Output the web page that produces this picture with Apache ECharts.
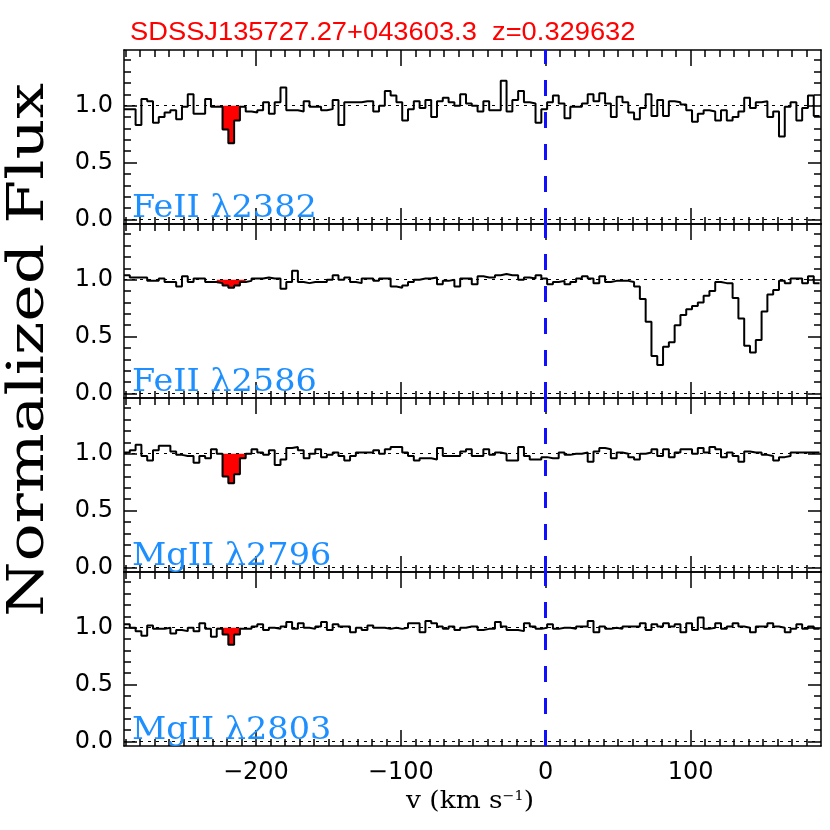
<!DOCTYPE html>
<html><head><meta charset="utf-8">
<script src="https://cdn.jsdelivr.net/npm/echarts@6/dist/echarts.min.js"></script>
<style>html,body{margin:0;padding:0;background:#fff}#c{width:830px;height:830px}</style>
</head><body><div id="c"></div>
<script>
// ---------------- data ----------------
const titleText = 'SDSSJ135727.27+043603.3  z=0.329632';
const panelLabels = ['FeII \u03bb2382', 'FeII \u03bb2586', 'MgII \u03bb2796', 'MgII \u03bb2803'];
const xTickValues = [-200, -100, 0, 100];
const xMinorValues = [-290,-280,-270,-260,-250,-240,-230,-220,-210,-200,-190,-180,-170,-160,-150,-140,-130,-120,-110,-100,-90,-80,-70,-60,-50,-40,-30,-20,-10,0,10,20,30,40,50,60,70,80,90,100,110,120,130,140,150,160,170,180];
const yTickValues = [0, 0.5, 1.0];
const yMinorValues = [0.1,0.2,0.3,0.4,0.6,0.7,0.8,0.9,1.1,1.2,1.3,1.4];
const velStart = -291;   // left edge of first pixel (km/s)
const velStep = 4;       // pixel width (km/s)
const absorber = [-227, -207]; // velocity window shaded red

const fe2382 = [0.97,0.97,0.83,1.06,1.04,0.85,0.90,0.94,0.96,0.88,
 0.99,1.10,0.93,0.93,1.06,0.99,0.99,0.79,0.67,0.87,
 0.99,0.95,0.94,0.96,1.03,0.93,1.03,1.16,0.96,0.96,
 0.95,1.04,0.99,0.99,0.96,0.97,1.05,0.83,1.03,1.03,
 1.03,1.04,1.04,0.95,1.00,1.13,1.09,1.03,0.87,0.97,
 1.04,0.98,1.05,0.90,1.04,1.07,1.03,1.00,1.10,1.02,
 1.00,0.95,1.04,0.96,0.96,1.22,0.95,1.05,1.13,1.03,
 1.02,0.85,0.97,1.03,1.09,1.02,0.89,0.99,0.99,1.02,
 1.10,1.04,1.11,1.02,0.90,1.08,1.03,0.94,0.88,0.98,
 1.10,0.91,1.05,0.91,1.04,1.03,1.01,0.96,0.86,0.93,
 0.96,0.95,0.87,0.96,0.87,0.90,0.95,1.07,0.98,1.03,
 1.04,0.90,0.95,0.73,0.99,1.03,0.87,0.98,1.09,0.91];
const fe2586 = [1.04,1.02,1.02,1.02,0.99,0.99,1.01,0.98,0.98,0.94,
 1.03,0.98,1.01,1.01,0.98,0.98,0.97,0.95,0.93,0.95,
 0.98,0.99,1.01,1.01,1.02,1.01,1.01,0.92,0.98,1.08,
 0.98,0.97,0.98,0.98,0.98,1.00,1.04,1.00,1.02,0.98,
 0.97,1.01,1.01,0.99,1.01,1.01,0.94,0.93,0.95,0.98,
 1.00,1.01,1.01,1.02,0.96,0.99,1.00,0.94,1.01,1.01,
 0.96,1.03,1.02,1.02,1.04,1.05,1.04,1.04,1.00,1.02,
 1.01,1.04,1.01,0.96,0.98,0.99,0.96,0.98,1.01,1.03,
 1.01,0.97,1.03,0.98,0.99,0.99,0.99,0.98,0.94,0.83,
 0.63,0.33,0.25,0.41,0.45,0.60,0.69,0.74,0.77,0.80,
 0.86,0.90,0.98,0.97,0.97,0.84,0.66,0.42,0.36,0.47,
 0.72,0.87,0.91,0.99,0.97,1.01,1.01,0.97,1.03,0.97];
const mg2796 = [1.01,1.03,1.08,0.98,0.94,1.03,1.07,1.07,1.02,0.99,
 0.98,0.98,0.92,0.98,0.96,1.04,1.00,0.80,0.74,0.82,
 0.96,1.00,1.04,1.01,0.99,1.03,0.90,0.95,1.05,1.06,
 1.03,0.96,1.00,1.04,0.97,0.99,1.01,0.98,0.94,0.98,
 1.01,1.01,1.01,1.03,1.00,1.04,1.06,1.06,1.01,0.98,
 0.94,0.96,0.96,0.95,1.05,0.98,0.98,0.98,1.02,1.04,
 0.98,0.98,1.04,0.99,1.01,1.00,0.94,0.94,1.06,0.98,
 0.95,0.95,0.97,0.96,0.96,1.01,0.99,1.00,1.00,1.01,
 0.93,1.02,1.05,1.04,0.96,1.01,1.00,0.97,0.95,1.00,
 1.01,1.04,0.98,1.04,0.97,1.01,1.04,1.04,1.00,1.05,
 1.01,1.06,1.04,0.97,1.01,0.98,0.93,1.02,1.01,1.01,
 0.99,0.98,0.94,0.97,0.98,1.01,1.01,1.01,1.01,1.01];
const mg2803 = [1.03,1.00,0.97,0.93,1.02,0.99,0.99,1.00,0.95,0.98,
 0.97,1.00,0.97,1.04,0.99,0.92,0.99,0.94,0.85,0.94,
 0.99,0.99,1.01,1.03,0.98,1.00,0.99,1.01,1.05,0.99,
 1.04,1.00,0.99,1.01,1.05,0.98,1.03,1.01,1.01,0.96,
 1.00,0.98,1.02,1.00,1.00,0.99,1.00,0.99,1.00,1.04,
 1.04,0.96,1.06,1.04,1.01,0.99,1.01,0.98,1.00,1.01,
 1.01,0.98,0.99,0.99,1.05,1.01,0.98,0.98,0.97,1.04,
 1.01,0.99,1.00,1.03,0.99,1.00,1.00,0.99,1.01,1.01,
 1.06,0.96,1.01,0.99,1.00,0.99,1.01,1.01,1.01,1.04,
 0.98,1.03,1.01,1.04,1.01,1.03,0.96,1.04,0.98,1.09,
 0.99,1.00,1.04,0.99,1.01,1.04,1.01,1.00,0.96,1.01,
 1.01,1.04,1.01,1.00,0.96,0.99,1.03,0.99,1.01,0.99];

// ---------------- build ----------------
const spectra = [fe2382, fe2586, mg2796, mg2803];
const X_MIN = -291, X_MAX = 190, Y_MIN = -0.04, Y_MAX = 1.49;
const GRID_LEFT = 124, GRID_W = 697, GRID_TOP = 50, GRID_H = 174;

function histPoints(vals, vLo, vHi) {
  const pts = [];
  let last = null;
  for (let k = 0; k < vals.length; k++) {
    const e = velStart + velStep * k;
    if (e < vLo - 1e-6 || e + velStep > vHi + 1e-6) continue;
    pts.push([e, vals[k]]);
    last = [e + velStep, vals[k]];
  }
  if (last) pts.push(last);
  return pts;
}

const grids = [], xAxes = [], yAxes = [], series = [];
const tickStyle = { color: '#000', width: 1.5 };
const lineStyleAxis = { color: '#000', width: 1.5 };

for (let i = 0; i < 4; i++) {
  grids.push({ left: GRID_LEFT, width: GRID_W, top: GRID_TOP + i * GRID_H, height: GRID_H });
  const xb = { gridIndex: i, type: 'value', min: X_MIN, max: X_MAX, splitLine: { show: false }, axisLabel: { show: false } };
  const lab = (i === 3) ? {
    show: true, customValues: xTickValues, margin: 15, color: '#000', fontSize: 24, fontFamily: 'DejaVu Sans',
    formatter: v => (v < 0 ? '\u2212' + Math.abs(v) : String(v))
  } : { show: false };
  xAxes.push(Object.assign({}, xb, { position: 'bottom', axisLine: { show: true, onZero: false, lineStyle: lineStyleAxis },
    axisTick: { show: true, inside: true, length: 16, customValues: xTickValues, lineStyle: tickStyle }, axisLabel: lab }));
  xAxes.push(Object.assign({}, xb, { position: 'bottom', axisLine: { show: false, onZero: false },
    axisTick: { show: true, inside: true, length: 7, customValues: xMinorValues, lineStyle: tickStyle } }));
  xAxes.push(Object.assign({}, xb, { position: 'top', axisLine: { show: true, onZero: false, lineStyle: lineStyleAxis },
    axisTick: { show: true, inside: true, length: 16, customValues: xTickValues, lineStyle: tickStyle } }));
  xAxes.push(Object.assign({}, xb, { position: 'top', axisLine: { show: false, onZero: false },
    axisTick: { show: true, inside: true, length: 7, customValues: xMinorValues, lineStyle: tickStyle } }));

  const yb = { gridIndex: i, type: 'value', min: Y_MIN, max: Y_MAX, splitLine: { show: false }, axisLabel: { show: false } };
  yAxes.push(Object.assign({}, yb, { position: 'left', axisLine: { show: true, onZero: false, lineStyle: lineStyleAxis },
    axisTick: { show: true, inside: true, length: 13, customValues: yTickValues, lineStyle: tickStyle },
    axisLabel: { show: true, customValues: yTickValues, margin: 11, color: '#000', fontSize: 24, fontFamily: 'DejaVu Sans',
      formatter: v => v.toFixed(1) } }));
  yAxes.push(Object.assign({}, yb, { position: 'left', axisLine: { show: false, onZero: false },
    axisTick: { show: true, inside: true, length: 7, customValues: yMinorValues, lineStyle: tickStyle } }));
  yAxes.push(Object.assign({}, yb, { position: 'right', axisLine: { show: true, onZero: false, lineStyle: lineStyleAxis },
    axisTick: { show: true, inside: true, length: 13, customValues: yTickValues, lineStyle: tickStyle } }));
  yAxes.push(Object.assign({}, yb, { position: 'right', axisLine: { show: false, onZero: false },
    axisTick: { show: true, inside: true, length: 7, customValues: yMinorValues, lineStyle: tickStyle } }));

  // red absorption fill
  series.push({
    type: 'line', xAxisIndex: 4 * i, yAxisIndex: 4 * i, step: 'end', showSymbol: false, silent: true,
    data: histPoints(spectra[i], absorber[0], absorber[1]),
    lineStyle: { width: 0, opacity: 0 }, areaStyle: { color: '#ff0000', opacity: 1, origin: 1 }, z: 2
  });
  // spectrum
  series.push({
    type: 'line', xAxisIndex: 4 * i, yAxisIndex: 4 * i, step: 'end', showSymbol: false, silent: true,
    data: histPoints(spectra[i], -1e9, 1e9),
    lineStyle: { color: '#000', width: 2 }, z: 3,
    markLine: {
      silent: true, symbol: 'none', label: { show: false }, animation: false,
      data: [
        { yAxis: 1, lineStyle: { color: '#000', width: 1, type: [3, 5] } },
        { yAxis: 0, lineStyle: { color: '#000', width: 1, type: [3, 5] } },
        { xAxis: 0, lineStyle: { color: '#1010ff', width: 3, type: [16, 16] } }
      ]
    }
  });
}

const graphics = [
  { type: 'text', left: 130, top: 20, z: 10,
    style: { text: titleText, fill: '#ff0000', font: '26px "Liberation Sans"' }, scaleX: 1.05 },
  { type: 'text', x: 4, y: 350, rotation: Math.PI / 2, z: 10,
    style: { text: 'Normalized Flux', fill: '#000', font: '51px "DejaVu Serif"', align: 'center', verticalAlign: 'top' }, scaleX: 1.24 }
];
for (let i = 0; i < 4; i++) {
  graphics.push({ type: 'text', x: 132, y: GRID_TOP + i * GRID_H + 174, z: 10, scaleX: 1.08,
    style: { text: panelLabels[i], fill: '#1e8fff', font: '31px "DejaVu Serif"', verticalAlign: 'bottom' } });
}
graphics.push({ type: 'text', x: 470, y: 790, z: 10, scaleX: 1.1,
  style: { text: 'v (km s{s|\u22121})', align: 'center', verticalAlign: 'top', fill: '#000', font: '24px "DejaVu Serif"',
    rich: { s: { fontSize: 13, fontFamily: 'DejaVu Serif', fill: '#000', verticalAlign: 'top', padding: [0, 0, 0, 0] } } } });

const chart = echarts.init(document.getElementById('c'), null, { renderer: 'canvas' });
chart.setOption({
  animation: false,
  backgroundColor: '#fff',
  grid: grids, xAxis: xAxes, yAxis: yAxes, series: series,
  graphic: graphics
});
</script></body></html>
